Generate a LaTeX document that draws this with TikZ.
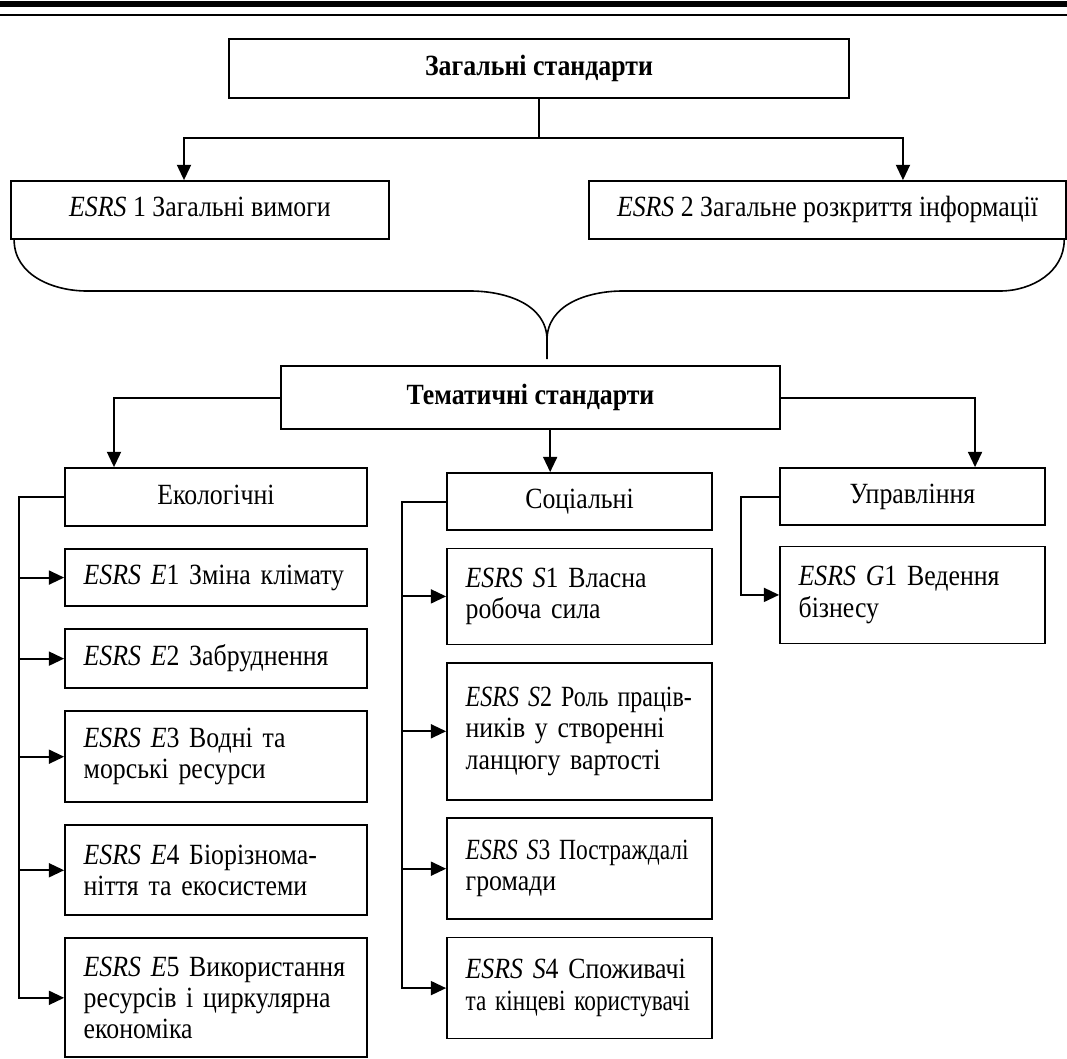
\documentclass[tikz,border=0pt]{standalone}
\usepackage{fontspec}
\usepackage{graphicx}
\setmainfont{Liberation Serif}[FakeStretch=0.88]
\usetikzlibrary{positioning,arrows.meta}

\begin{document}
\begin{tikzpicture}[x=0.75pt,y=-0.75pt,
    font=\fontsize{22}{23.5}\selectfont]
  \tikzset{
    stdbox/.style={
      rectangle,
      draw=black, line width=1.3pt,
      minimum height=43.5pt,
      inner sep=0,
      text height=15pt, text depth=4.5pt,
      text centered,
    },
    ebox/.style={
      rectangle,
      draw=black, line width=1.3pt,
      inner xsep=14pt, inner ysep=3pt,
      text width=198.5pt,
      align=left,
    },
    sbox/.style={ebox, text width=170.75pt},
    link/.style={-{Triangle[length=11.5pt,width=10.5pt]}, line width=1.5pt},
  }
  \useasboundingbox (0,0) rectangle (1067,1059);

  % header rules
  \draw[line width=4.5pt] (0,4) -- (1067,4);
  \draw[line width=1.5pt] (0,15) -- (1067,15);

  \node[stdbox, minimum width=465pt, minimum height=44.25pt] (general) at (539,68.5)
    {\textbf{Загальні стандарти}};

  \node[stdbox, minimum width=283.5pt] (esrs1) at (200,210)
    {\textit{ESRS} 1 Загальні вимоги};

  \node[stdbox, minimum width=357.75pt] (esrs2) at (827.5,210)
    {\textit{ESRS} 2 Загальне розкриття інформації};

  \node[stdbox, minimum width=374.25pt, minimum height=47.25pt] (topical) at (530.5,397.5)
    {\textbf{Тематичні стандарти}};

  \node[stdbox, minimum width=226.5pt] (env) at (216,497) {Екологічні};
  \node[stdbox, minimum width=198.75pt, minimum height=42.75pt] (soc) at (579.5,501.5) {Соціальні};
  \node[stdbox, minimum width=198.75pt, minimum height=42.75pt] (gov) at (912.5,496.5) {Управління};

  % environmental
  \node[ebox, below=16pt of env, minimum height=42.75pt] (e1)
    {\textit{ESRS E}1 Зміна клімату};
  \node[ebox, below=16pt of e1, minimum height=44.25pt] (e2)
    {\textit{ESRS E}2 Забруднення};
  \node[ebox, below=16pt of e2, minimum height=68.25pt] (e3)
    {\textit{ESRS E}3 Водні та\\ морські ресурси};
  \node[ebox, below=16pt of e3, minimum height=67.5pt] (e4)
    {\textit{ESRS E}4 Біорізнома-\\ніття та екосистеми};
  \node[ebox, below=16pt of e4, minimum height=89.25pt] (e5)
    {\textit{ESRS E}5 Використання\\ ресурсів і циркулярна\\ економіка};

  % social
  \node[sbox, below=12.5pt of soc, minimum height=72pt] (s1)
    {\textit{ESRS S}1 Власна\\ робоча сила};
  \node[sbox, below=12.5pt of s1, minimum height=102.75pt] (s2)
    {\scalebox{0.93}[1]{\textit{ESRS S}2 Роль праців-}\\ників у створенні\\ ланцюгу вартості};
  \node[sbox, below=12.5pt of s2, minimum height=75.75pt] (s3)
    {\scalebox{0.91}[1]{\textit{ESRS S}3 Постраждалі}\\ громади};
  \node[sbox, below=12.5pt of s3, minimum height=75.75pt] (s4)
    {\textit{ESRS S}4 Споживачі\\ \scalebox{0.9}[1]{та кінцеві користувачі}};

  % governance
  \node[sbox, below=14.75pt of gov, minimum height=72.75pt] (g1)
    {\textit{ESRS G}1 Ведення\\ бізнесу};

  % brace
  \draw[line width=1.2pt] ([xshift=3pt]esrs1.south west) to[out=-90,in=180] (87,291)
    -- (470,291) to[out=0,in=90] (547,340) -- (547,359);
  \draw[line width=1.2pt] ([xshift=-2pt]esrs2.south east) to[out=-90,in=0] (1000,291)
    -- (623,291) to[out=180,in=90] (547,340);

  \coordinate (fork) at (539,138);
  \draw[line width=1.5pt] (general.south) -- (fork);
  \draw[link] (fork) -| ([xshift=-12pt]esrs1.north);
  \draw[link] (fork) -| ([xshift=56.6pt]esrs2.north);

  \draw[link] (topical.west) -| ([xshift=-76.5pt]env.north);
  \coordinate (socin) at ([xshift=-22pt]soc.north);
  \draw[link] (topical.south -| socin) -- (socin);
  \draw[link] (topical.east) -| ([xshift=46.9pt]gov.north);

  \coordinate (ebus) at ([xshift=-33.75pt]env.west);
  \draw[link] (env.west) -- (ebus) |- (e5.west);
  \foreach \n in {e1,e2,e3,e4}
    \draw[link] (ebus |- \n.west) -- (\n.west);

  \coordinate (sbus) at ([xshift=-33pt]soc.west);
  \draw[link] (soc.west) -- (sbus) |- (s4.west);
  \foreach \n in {s1,s2,s3}
    \draw[link] (sbus |- \n.west) -- (\n.west);

  \coordinate (gbus) at ([xshift=-28.5pt]gov.west);
  \draw[link] (gov.west) -- (gbus) |- (g1.west);

\end{tikzpicture}
\end{document}
